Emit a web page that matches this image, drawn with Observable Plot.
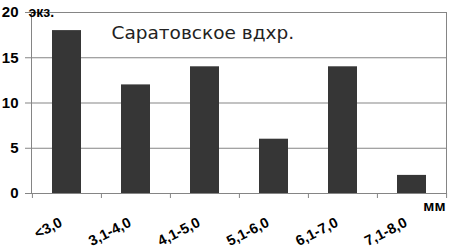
<!DOCTYPE html><html><head><meta charset="utf-8">
<script src="https://cdn.jsdelivr.net/npm/d3@7"></script>
<script src="https://cdn.jsdelivr.net/npm/@observablehq/plot@0.6"></script>
<style>body{margin:0;background:#fff}</style></head><body><div id="c"></div><script>
const categories = ["<3,0","3,1-4,0","4,1-5,0","5,1-6,0","6,1-7,0","7,1-8,0"];
const counts = [18,12,14,6,14,2];
const yTicks = [0,5,10,15,20];
const title = "Саратовское вдхр.";
const yUnit = "экз.";
const xUnit = "мм";
const data = categories.map((c,i)=>({c, n: counts[i]}));
const W=456, H=250, ml=31, mr=10;
const step = (W-ml-mr)/categories.length;
const grid = "#858585";
const chart = Plot.plot({
  width:W, height:H, marginLeft:ml, marginRight:mr, marginTop:12, marginBottom:57,
  style:{fontFamily:"Liberation Sans, Arial, sans-serif", background:"#fff", color:"#000"},
  x:{domain:categories, paddingInner:0.58, paddingOuter:0.29},
  y:{domain:[0,20]},
  marks:[
    Plot.ruleY(yTicks,{stroke:grid}),
    Plot.frame({stroke:grid}),
    Plot.barY(data,{x:"c",y:"n",fill:"#363636"}),
    Plot.ruleX(categories,{x:d=>d, y1:0, y2:0, insetBottom:-5, dx:-step/2, stroke:grid}),
    Plot.ruleX([categories[categories.length-1]],{x:d=>d, y1:0, y2:0, insetBottom:-5, dx:step/2, stroke:grid}),
    Plot.axisY({ticks:yTicks, tickSize:6, tickPadding:7, fontSize:15, fontWeight:"bold", label:null, stroke:grid}),
    Plot.axisX({tickSize:0, tickPadding:28, dx:-6, tickRotate:-27, fontSize:14.5, fontWeight:"bold", label:null}),
    Plot.text([title],{frameAnchor:"top-left", dx:80, dy:13, fontSize:18.5, fontFamily:"DejaVu Sans", textAnchor:"start", fill:"#222"}),
    Plot.text([yUnit],{frameAnchor:"top-left", dx:-3, dy:-5.5, fontSize:14, fontWeight:"bold", textAnchor:"start"}),
    Plot.text([xUnit],{frameAnchor:"bottom-right", dx:-1, dy:17, fontSize:15, fontWeight:"bold", textAnchor:"end"})
  ]
});
document.getElementById("c").appendChild(chart);
</script></body></html>
